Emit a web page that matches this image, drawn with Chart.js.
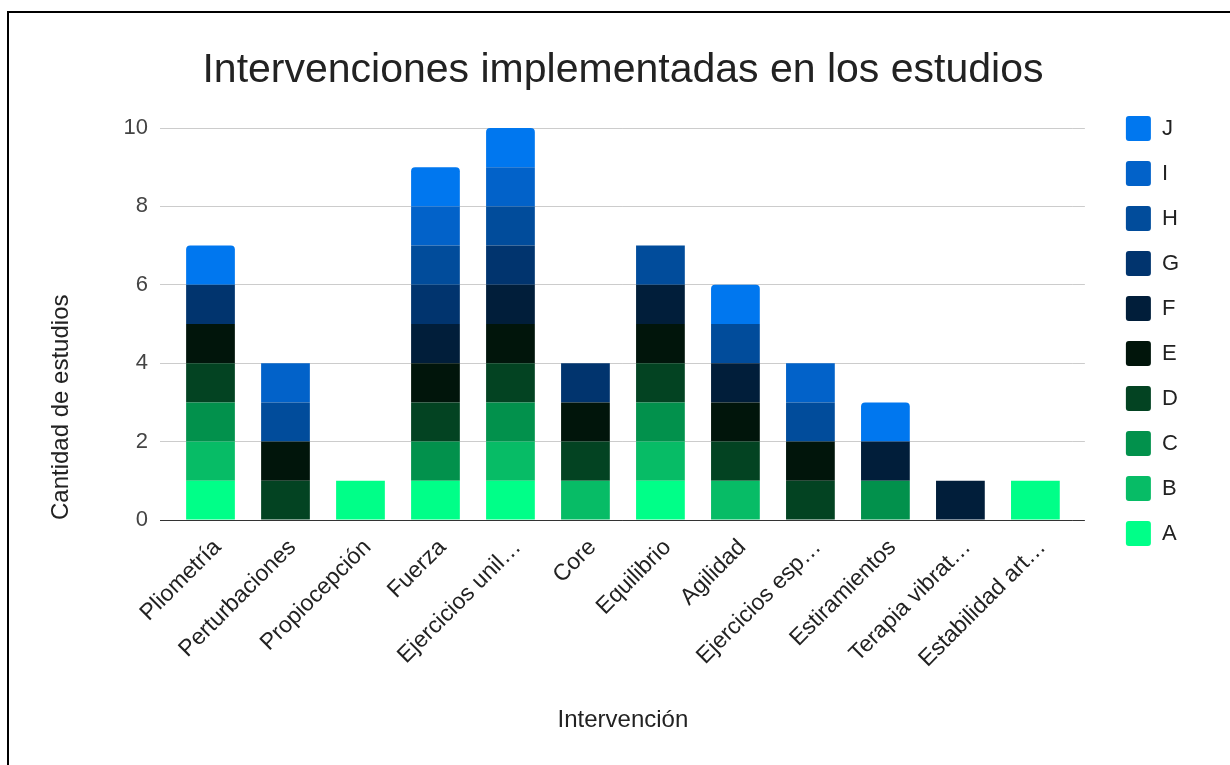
<!DOCTYPE html>
<html>
<head>
<meta charset="utf-8">
<script src="https://cdn.jsdelivr.net/npm/chart.js@4.4.1/dist/chart.umd.min.js"></script>
<style>
  html, body { margin: 0; padding: 0; background: #fff; }
  #wrap { position: relative; width: 1230px; height: 765px; overflow: hidden; }
  #marco { position: absolute; left: 7px; top: 11px; width: 1240px; height: 780px;
           border-top: 2px solid #000; border-left: 2px solid #000; pointer-events: none; }
  canvas { position: absolute; left: 0; top: 0; }
</style>
</head>
<body>
<div id="wrap">
  <canvas id="grafico" width="1230" height="765"></canvas>
  <div id="marco"></div>
</div>
<script>
(() => {
    // categorias (eje x)
    const categorias = ['Pliometría', 'Perturbaciones', 'Propiocepción', 'Fuerza', 'Ejercicios unil…', 'Core',
        'Equilibrio', 'Agilidad', 'Ejercicios esp…', 'Estiramientos', 'Terapia vibrat…', 'Estabilidad art…'];

    // series, una por estudio
    const serieA = [1, 0, 1, 1, 1, 0, 1, 0, 0, 0, 0, 1];
    const serieB = [1, 0, 0, 0, 1, 1, 1, 1, 0, 0, 0, 0];
    const serieC = [1, 0, 0, 1, 1, 0, 1, 0, 0, 1, 0, 0];
    const serieD = [1, 1, 0, 1, 1, 1, 1, 1, 1, 0, 0, 0];
    const serieE = [1, 1, 0, 1, 1, 1, 1, 1, 1, 0, 0, 0];
    const serieF = [0, 0, 0, 1, 1, 0, 1, 1, 0, 1, 1, 0];
    const serieG = [1, 0, 0, 1, 1, 1, 0, 0, 0, 0, 0, 0];
    const serieH = [0, 1, 0, 1, 1, 0, 1, 1, 1, 0, 0, 0];
    const serieI = [0, 1, 0, 1, 1, 0, 0, 0, 1, 0, 0, 0];
    const serieJ = [1, 0, 0, 1, 1, 0, 0, 1, 0, 1, 0, 0];

    const nombres = ['A', 'B', 'C', 'D', 'E', 'F', 'G', 'H', 'I', 'J'];
    const valores = [serieA, serieB, serieC, serieD, serieE, serieF, serieG, serieH, serieI, serieJ];
    const colores = ['#00ff88', '#07bc66', '#02914c', '#034322', '#01150b',
        '#011e3a', '#01346e', '#014c9b', '#0262c9', '#0077ef'];

    // marcas del eje y
    const yMin = 0, yMax = 10, yPaso = 2;

    const fuente = "'Liberation Sans', Arial, sans-serif";
    Chart.defaults.font.family = fuente;

    const colorRejilla = (ctx) => (ctx.tick && ctx.tick.value === 0) ? '#333333' : '#cccccc';

    const datasets = nombres.map((n, i) => ({
        label: n,
        data: valores[i],
        backgroundColor: colores[i],
        borderWidth: 0,
        // solo la ultima serie lleva esquinas redondeadas
        borderRadius: i === nombres.length - 1 ? { topLeft: 4, topRight: 4, bottomLeft: 0, bottomRight: 0 } : 0,
        borderSkipped: false,
        categoryPercentage: 1,
        barPercentage: 0.65
    }));

    const ctx = document.getElementById('grafico').getContext('2d');
    new Chart(ctx, {
        type: 'bar',
        data: { labels: categorias, datasets: datasets },
        options: {
            responsive: false,
            animation: false,
            devicePixelRatio: 1,
            layout: { padding: { left: 0, right: 41, top: 0, bottom: 0 } },
            plugins: {
                title: {
                    display: true,
                    text: 'Intervenciones implementadas en los estudios',
                    color: '#222222',
                    fullSize: false,
                    font: { size: 41, weight: 'normal' },
                    padding: { top: 46.4, bottom: 32.4 }
                },
                legend: {
                    position: 'right',
                    align: 'start',
                    reverse: true,
                    title: { display: true, text: '', font: { size: 10, lineHeight: 1 }, padding: { top: 86, bottom: 0 } },
                    labels: {
                        boxWidth: 25,
                        boxHeight: 25,
                        padding: 20,
                        color: '#222222',
                        font: { size: 22 },
                        useBorderRadius: true,
                        borderRadius: 3
                    }
                },
                tooltip: { enabled: false }
            },
            scales: {
                x: {
                    stacked: true,
                    grid: { display: false },
                    border: { display: false },
                    ticks: {
                        autoSkip: false,
                        minRotation: 45,
                        maxRotation: 45,
                        labelOffset: 7,
                        padding: 6,
                        color: '#222222',
                        font: { size: 23 }
                    },
                    title: {
                        display: true,
                        text: 'Intervención',
                        color: '#222222',
                        font: { size: 24 },
                        padding: { top: 0, bottom: 30.6 }
                    },
                    afterFit: (escala) => { escala.height = 245; }
                },
                y: {
                    stacked: true,
                    min: yMin,
                    max: yMax,
                    border: { display: false },
                    grid: { color: colorRejilla, tickLength: 13, lineWidth: 1 },
                    ticks: { stepSize: yPaso, padding: 12, color: '#444444', font: { size: 22 } },
                    title: {
                        display: true,
                        text: 'Cantidad de estudios',
                        align: 'start',
                        color: '#222222',
                        font: { size: 24 },
                        padding: { top: 46.6, bottom: 0 }
                    },
                    afterFit: (escala) => { escala.width = 173; }
                },
                y2: {
                    position: 'right',
                    min: yMin,
                    max: yMax,
                    border: { display: false },
                    grid: { color: colorRejilla, drawOnChartArea: false, drawTicks: true, tickLength: 12 },
                    ticks: { stepSize: yPaso, display: false },
                    afterFit: (escala) => { escala.width = 33; }
                }
            }
        }
    });
})();
</script>
</body>
</html>
